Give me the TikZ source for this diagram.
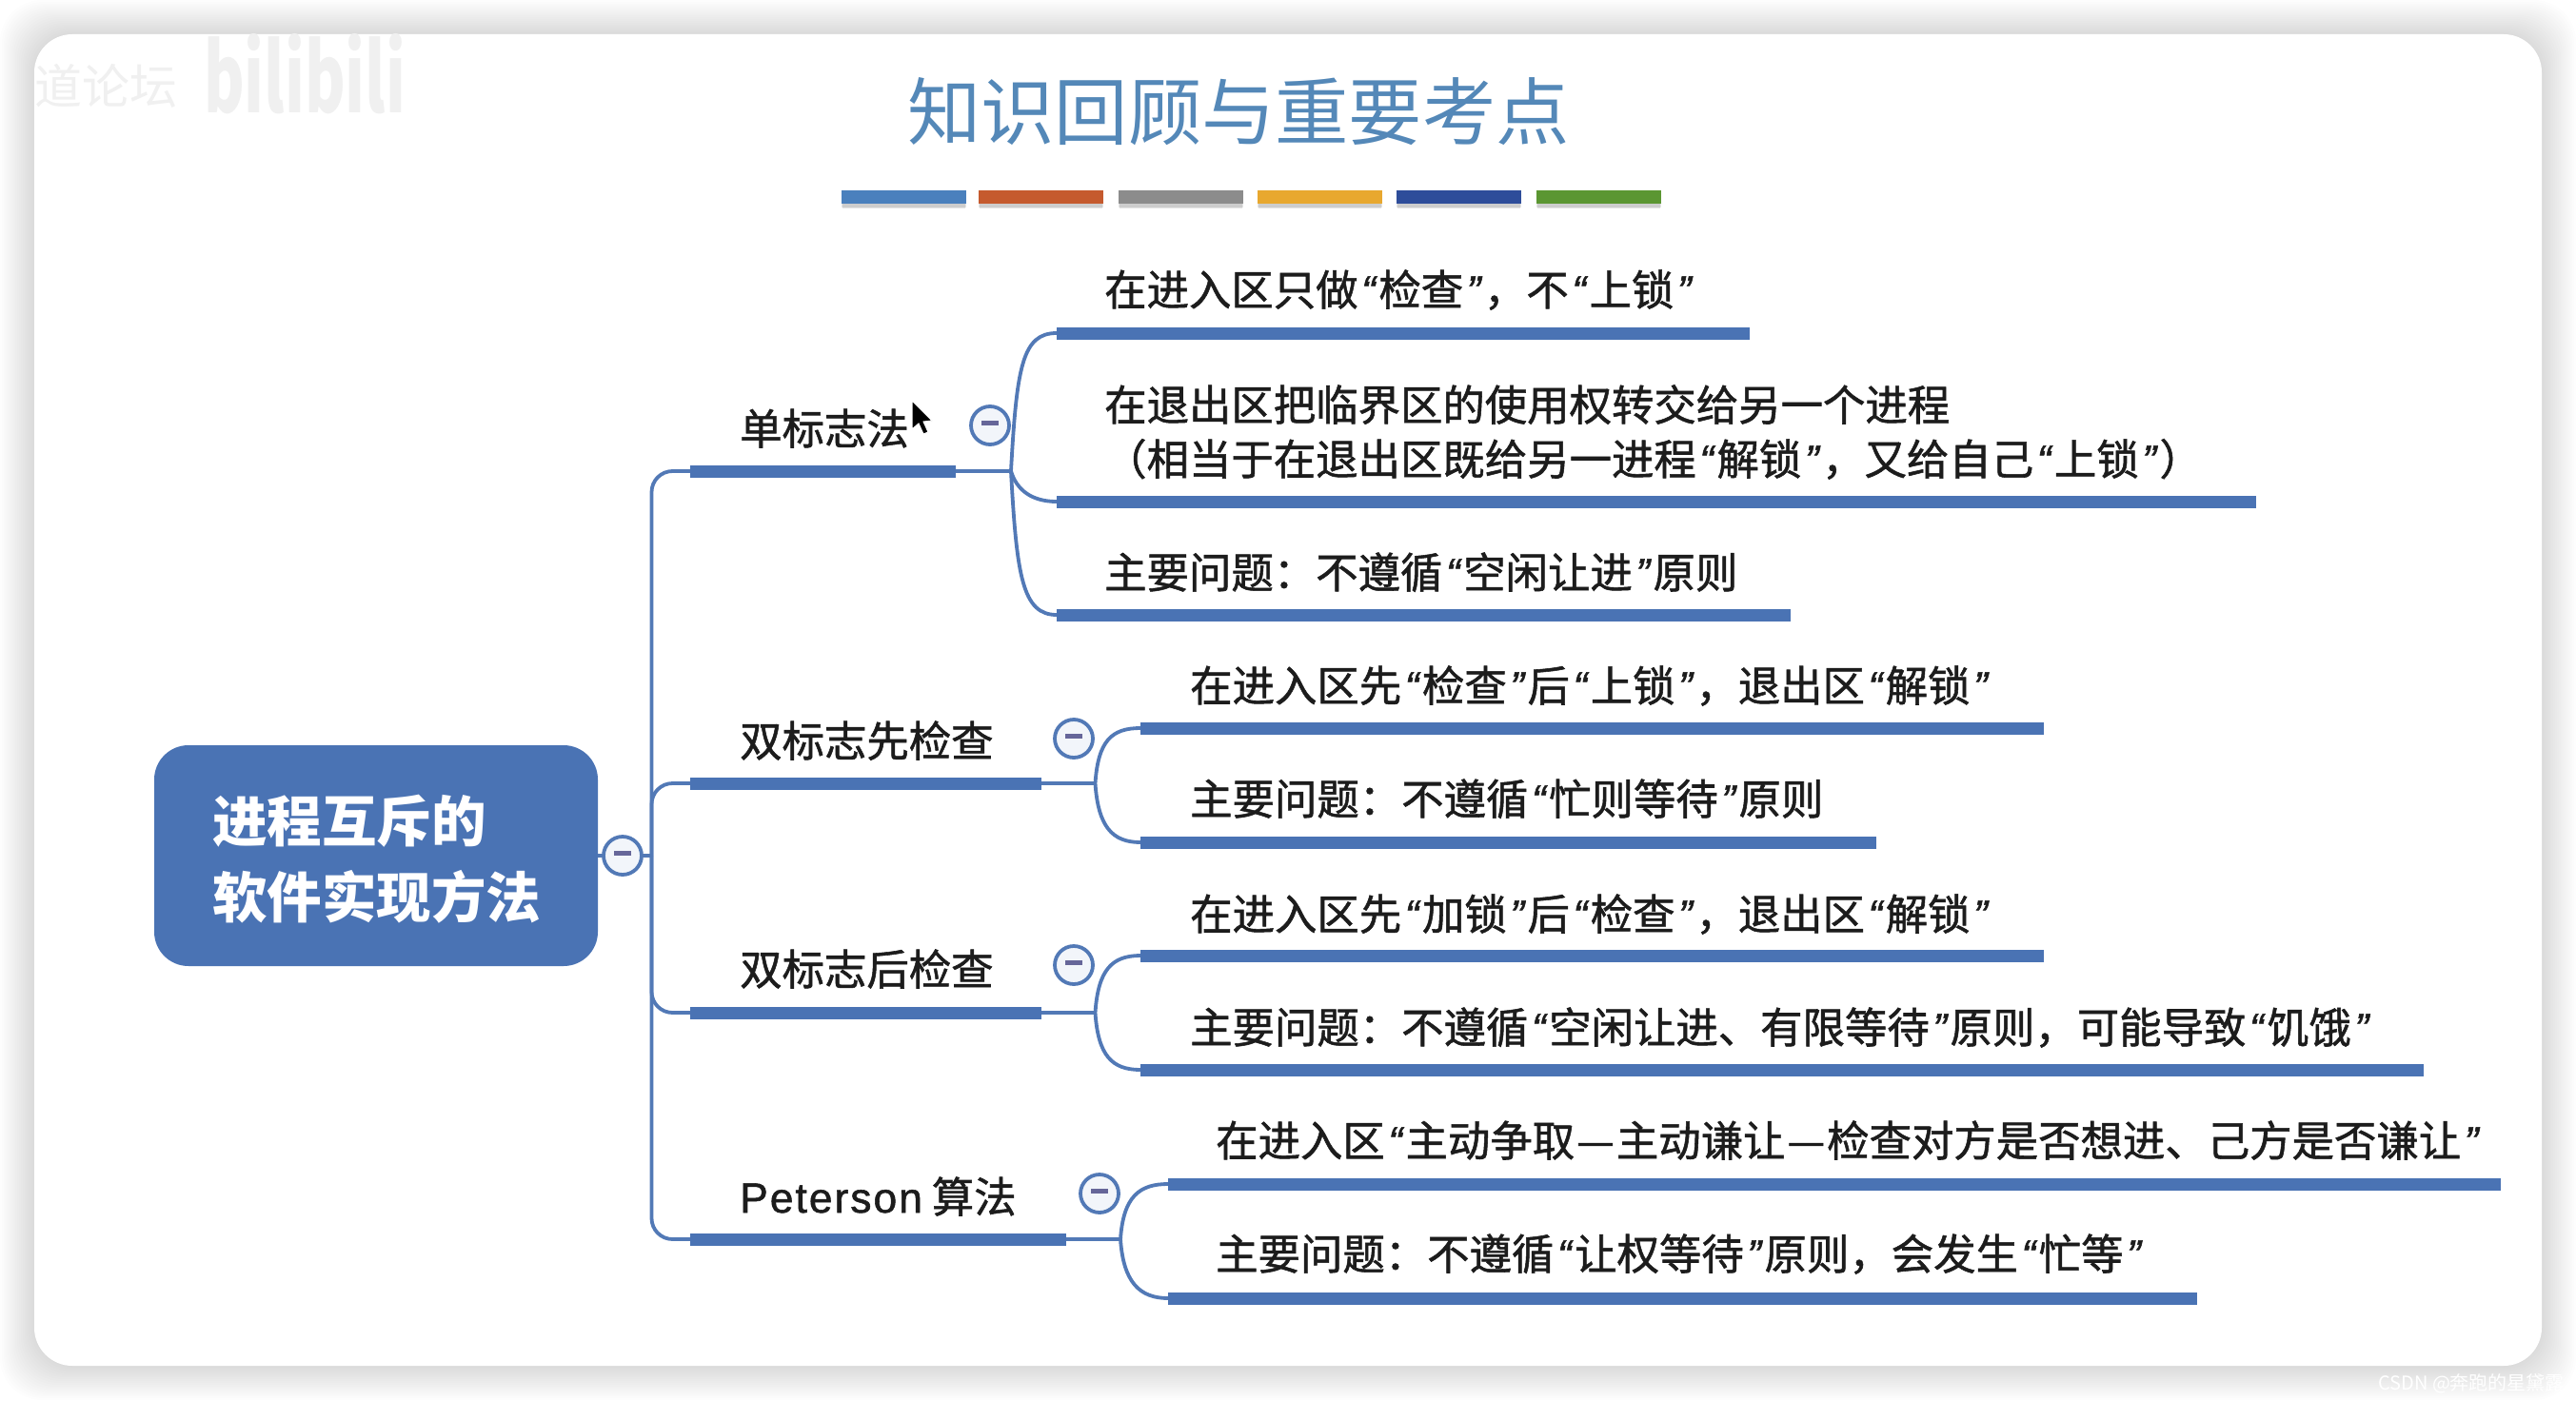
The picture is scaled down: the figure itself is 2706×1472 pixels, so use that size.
\documentclass[tikz,border=0pt]{standalone}
\usepackage{fontspec}
\setmainfont[FakeBold=1.2]{Noto Sans CJK SC}
\newfontfamily\plainf{Noto Sans CJK SC}
\newfontfamily\qf[FakeBold=1.2]{Liberation Sans}
\newfontfamily\lf[LetterSpace=4.5,FakeBold=1.2]{Liberation Sans}
\newcommand{\QL}{{\qf\itshape\kern3.5pt “\kern3.5pt}}
\newcommand{\QR}{{\qf\itshape\kern3.5pt ”\kern3.5pt}}
\newcommand{\FC}{\char"FF0C\relax}
\newcommand{\CL}{\char"FF1A\relax}
\newcommand{\PL}{\char"FF08\relax}
\newcommand{\PR}{\char"FF09\relax}
\newcommand{\DS}{\kern2pt—\kern2pt}
\newcommand{\fsz}[1]{\fontsize{#1}{#1}\selectfont}
\definecolor{mapblue}{HTML}{4A73B4}
\definecolor{linkblue}{HTML}{5279B6}
\definecolor{titleblue}{HTML}{5488B8}
\definecolor{inkc}{HTML}{1C1C1C}
\tikzset{
  x=1pt,y=-1pt,
  thickbar/.style={rectangle,fill=mapblue,draw=none,inner sep=0pt,minimum height=13pt,anchor=west},
  conn/.style={draw=linkblue,line width=3.8pt},
  btn/.style={circle,draw=linkblue,line width=3.8pt,fill=white!93!mapblue,minimum size=40pt,inner sep=0pt,text=gray},
  leaf/.style={anchor=base west,inner sep=0pt,text=inkc,font=\fsz{44.4}},
  ribbon/.style={rectangle,draw=none,inner sep=0pt,minimum height=14pt,anchor=north west},
}
\newcommand{\Minus}{\textcolor{gray!80!blue}{\rule[5.5pt]{18pt}{4.5pt}}}
\begin{document}
\begin{tikzpicture}
\useasboundingbox (0,0) rectangle (2706,1472);
\fill[white] (0,0) rectangle (2706,1472);
% panel shadow
\begin{scope}
\clip (0,0) rectangle (2706,1472);
\foreach \i in {36,34,...,2}{
  \fill[black,opacity=0.009,rounded corners=44pt] (36-\i,36-\i) rectangle (2670+\i,1435+\i);
}
\end{scope}
\fill[white,rounded corners=40pt] (36,36) rectangle (2670,1435);
% watermarks
\node[anchor=base west,inner sep=0pt,text=black!6,font={\plainf\fsz{50}}] (wm1) at (36,110) {道论坛};
\node[anchor=base west,inner sep=0pt,text=black!6,font={\plainf\bfseries\fsz{100}},xscale=.65,transform shape] (wm2) at (214,118) {bilibili};
\node[anchor=base west,inner sep=0pt,text=white,font={\plainf\fsz{20}}] (wm3) at (2498,1460) {CSDN @奔跑的星黛露};
% title
\node[inner sep=0pt,text=titleblue,font={\plainf\fsz{77.3}}] (title) at (1301,117) {知识回顾与重要考点};
% ribbon
\foreach \xa/\c [count=\n] in {884/4A80BD,1028/C55A2E,1175/8C8C8C,1321/E8A82F,1467/2E4D9A,1614/5B9632}{
  \fill[black,opacity=.10] (\xa,204) rectangle +(131,14);
  \fill[black,opacity=.10] (\xa+1,206) rectangle +(129,13);
  \definecolor{cc}{HTML}{\c}
  \node[ribbon,fill=cc,minimum width=131pt] (rib\n) at (\xa,200) {};
}
% root
\node[rectangle,rounded corners=36pt,fill=mapblue,minimum width=466pt,minimum height=232pt,inner sep=0pt] (root) at (395,899) {};
\node[anchor=base west,inner sep=0pt,text=white,font={\plainf\bfseries\fsz{57.5}}] (rootA) at (223,884) {进程互斥的};
\node[anchor=base west,inner sep=0pt,text=white,font={\plainf\bfseries\fsz{57.5}}] (rootB) at (223,964) {软件实现方法};
% branch bars
\coordinate (trunk) at (684.5,899);
\node[thickbar,minimum width=279pt] (b1) at (725,495) {};
\node[thickbar,minimum width=369pt] (b2) at (725,823) {};
\node[thickbar,minimum width=369pt] (b3) at (725,1064) {};
\node[thickbar,minimum width=395pt] (b4) at (725,1302) {};
\draw[conn] (root.east) -- (trunk);
\foreach \b in {b1,b2,b3,b4}{\draw[conn,rounded corners=22pt] (trunk) |- (\b.west);}
% junctions
\coordinate (j1) at (1062,495);
\coordinate (j2) at (1150.5,823);
\coordinate (j3) at (1150.5,1064);
\coordinate (j4) at (1177,1302);
\draw[conn] (b1.east) -- (j1);
\draw[conn] (b2.east) -- (j2);
\draw[conn] (b3.east) -- (j3);
\draw[conn] (b4.east) -- (j4);
% leaf bars
\node[thickbar,minimum width=728pt] (l1a) at (1110,350) {};
\node[thickbar,minimum width=1260pt] (l1b) at (1110,527) {};
\node[thickbar,minimum width=771pt] (l1c) at (1110,646) {};
\node[thickbar,minimum width=949pt] (l2a) at (1198,765) {};
\node[thickbar,minimum width=773pt] (l2b) at (1198,885) {};
\node[thickbar,minimum width=949pt] (l3a) at (1198,1004) {};
\node[thickbar,minimum width=1348pt] (l3b) at (1198,1124) {};
\node[thickbar,minimum width=1400pt] (l4a) at (1227,1244) {};
\node[thickbar,minimum width=1081pt] (l4b) at (1227,1364) {};
% curves
\draw[conn] (j1) .. controls +(6,-110) and +(-36,0) .. (l1a.west);
\draw[conn] (j1) .. controls +(6,20) and +(-26,0) .. (l1b.west);
\draw[conn] (j1) .. controls +(6,110) and +(-36,0) .. (l1c.west);
\foreach \j/\u/\v in {j2/l2a/l2b,j3/l3a/l3b,j4/l4a/l4b}{
  \draw[conn] (\j) .. controls +(3,-45) and +(-30,0) .. (\u.west);
  \draw[conn] (\j) .. controls +(3,45) and +(-30,0) .. (\v.west);
}
% buttons
\node[btn] (btn0) at (654,899) {\Minus};
\node[btn] (btn1) at (1040,447) {\Minus};
\node[btn] (btn2) at (1128,776) {\Minus};
\node[btn] (btn3) at (1128,1014) {\Minus};
\node[btn] (btn4) at (1155,1254) {\Minus};
% branch labels
\node[leaf] (t1) at (777,467) {单标志法};
\node[leaf] (t2) at (777,795) {双标志先检查};
\node[leaf] (t3) at (777,1035) {双标志后检查};
\node[leaf] (t4) at (777,1274) {{\lf Peterson} 算法};
% leaf texts
\node[leaf] (t1a) at (1160,321) {在进入区只做\QL 检查\QR \FC 不\QL 上锁\QR};
\node[leaf] (t1b) at (1160,442) {在退出区把临界区的使用权转交给另一个进程};
\node[leaf] (t1c) at (1160,499) {\PL 相当于在退出区既给另一进程\QL 解锁\QR \FC 又给自己\QL 上锁\QR \PR};
\node[leaf] (t1d) at (1160,618) {主要问题\CL 不遵循\QL 空闲让进\QR 原则};
\node[leaf] (t2a) at (1250,737) {在进入区先\QL 检查\QR 后\QL 上锁\QR \FC 退出区\QL 解锁\QR};
\node[leaf] (t2b) at (1250,856) {主要问题\CL 不遵循\QL 忙则等待\QR 原则};
\node[leaf] (t3a) at (1250,977) {在进入区先\QL 加锁\QR 后\QL 检查\QR \FC 退出区\QL 解锁\QR};
\node[leaf] (t3b) at (1250,1096) {主要问题\CL 不遵循\QL 空闲让进、有限等待\QR 原则\FC 可能导致\QL 饥饿\QR};
\node[leaf] (t4a) at (1277,1215) {在进入区\QL 主动争取\DS 主动谦让\DS 检查对方是否想进、己方是否谦让\QR};
\node[leaf] (t4b) at (1277,1334) {主要问题\CL 不遵循\QL 让权等待\QR 原则\FC 会发生\QL 忙等\QR};
% mouse cursor
\fill[black,draw=white,line width=1pt] (958,421) -- (958,451) -- (965,445) -- (970,456) -- (975,454) -- (970,443) -- (979,442) -- cycle;
\end{tikzpicture}
\end{document}
